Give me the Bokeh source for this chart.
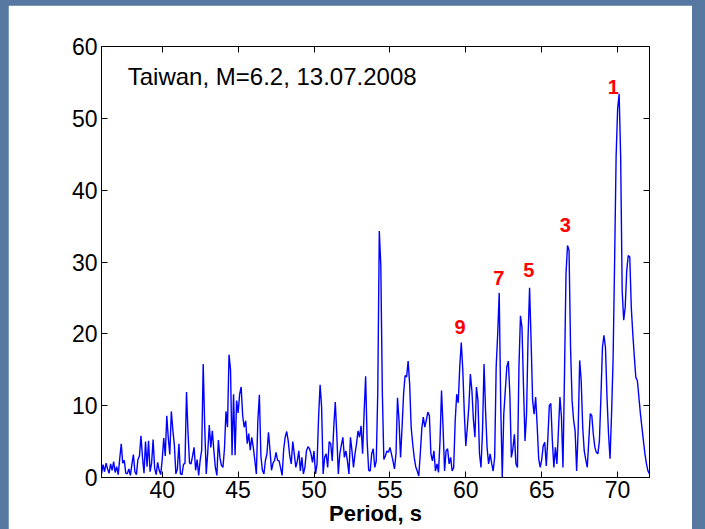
from bokeh.plotting import figure
from bokeh.models import Range1d, LinearAxis, FixedTicker, Label, CustomJSTickFormatter
from bokeh.layouts import column
from bokeh.embed import file_html
from bokeh.resources import INLINE

# Spectrum sampled every 0.1 s of period, starting at 36.0 s
period_start = 36.0
period_step = 0.1
amplitude = (
    [0.5, 1.8, 0.8, 2.0, 1.2, 0.6, 1.9, 1.0, 2.2, 0.7]        # 36 s
    + [1.5, 0.4, 2.6, 4.7, 2.0, 2.4, 0.6, 0.5, 1.2, 0.3]      # 37 s
    + [1.8, 3.2, 0.8, 0.4, 2.5, 3.0, 5.8, 2.8, 0.6, 5.0]      # 38 s
    + [1.5, 5.1, 0.8, 2.0, 5.3, 1.3, 0.4, 2.1, 1.0, 0.4]      # 39 s
    + [2.5, 5.5, 3.0, 8.6, 5.5, 3.2, 9.2, 6.6, 4.5, 0.5]      # 40 s
    + [1.2, 4.7, 0.5, 0.4, 1.8, 2.0, 11.9, 6.2, 2.0, 1.9]     # 41 s
    + [3.0, 4.2, 1.0, 2.5, 0.3, 2.4, 3.8, 15.8, 7.0, 0.5]     # 42 s
    + [3.5, 7.3, 4.2, 6.5, 3.8, 1.4, 0.3, 5.2, 2.8, 1.7]      # 43 s
    + [1.4, 4.0, 9.2, 7.0, 17.1, 15.0, 3.1, 11.6, 3.1, 10.7]  # 44 s
    + [9.0, 11.6, 12.6, 8.6, 7.0, 7.9, 4.7, 6.1, 3.8, 5.6]    # 45 s
    + [4.2, 2.4, 0.5, 7.9, 11.5, 3.0, 1.0, 0.5, 2.4, 3.3]     # 46 s
    + [6.3, 3.8, 1.0, 2.0, 2.4, 3.5, 2.4, 2.3, 1.3, 0.3]      # 47 s
    + [3.9, 5.6, 6.4, 5.1, 3.0, 1.9, 5.0, 3.3, 1.4, 2.3]      # 48 s
    + [3.7, 0.9, 2.8, 0.5, 1.4, 3.7, 4.3, 4.0, 3.3, 2.1]      # 49 s
    + [3.7, 0.5, 1.9, 8.4, 12.9, 9.8, 0.5, 2.8, 3.3, 1.4]     # 50 s
    + [5.0, 4.7, 2.3, 7.0, 10.5, 6.0, 0.5, 3.3, 4.5, 5.6]     # 51 s
    + [2.8, 3.7, 2.3, 0.5, 5.6, 3.7, 1.4, 3.3, 4.7, 6.5]      # 52 s
    + [5.6, 7.2, 3.3, 9.0, 14.1, 5.0, 1.0, 0.9, 3.3, 4.0]     # 53 s
    + [1.4, 2.3, 11.9, 34.3, 29.5, 11.9, 2.5, 3.0, 3.7, 3.5]  # 54 s
    + [4.2, 3.3, 2.3, 1.2, 3.3, 11.1, 7.9, 2.8, 7.0, 11.6]    # 55 s
    + [14.2, 14.0, 16.2, 13.0, 7.0, 4.7, 2.8, 1.5, 0.9, 0.2]  # 56 s
    + [3.3, 6.8, 8.4, 7.0, 8.0, 9.1, 8.6, 3.3, 2.3, 3.7]      # 57 s
    + [0.9, 1.9, 0.7, 5.1, 12.1, 7.0, 0.9, 3.7, 4.0, 1.9]     # 58 s
    + [2.8, 0.9, 1.4, 7.9, 11.6, 10.4, 15.4, 18.8, 15.0, 9.0] # 59 s
    + [4.4, 7.0, 9.9, 14.4, 12.1, 8.0, 5.6, 12.6, 10.7, 3.3]  # 60 s
    + [1.4, 6.5, 15.8, 9.3, 4.2, 1.9, 3.3, 2.0, 0.9, 2.8]     # 61 s
    + [15.4, 20.0, 25.7, 10.0, 0.0, 8.8, 12.1, 15.4, 16.2, 11.6]  # 62 s
    + [2.8, 4.0, 6.0, 1.9, 1.4, 15.4, 22.5, 20.9, 12.6, 5.1]  # 63 s
    + [8.8, 19.5, 26.4, 19.0, 10.7, 8.8, 11.2, 7.2, 2.6, 1.4] # 64 s
    + [2.5, 4.4, 4.9, 1.6, 5.3, 10.0, 10.3, 5.1, 1.4, 4.2]    # 65 s
    + [1.9, 6.5, 11.2, 8.4, 1.4, 14.4, 28.4, 32.3, 31.6, 18.0]  # 66 s
    + [10.7, 8.0, 6.5, 0.9, 6.5, 16.3, 13.5, 7.0, 3.7, 2.5]   # 67 s
    + [1.4, 5.1, 8.9, 8.6, 6.0, 4.2, 3.5, 3.3, 5.1, 11.2]     # 68 s
    + [18.1, 19.8, 18.1, 11.2, 6.1, 2.6, 8.8, 16.3, 29.8, 44.6]  # 69 s
    + [51.3, 53.4, 44.6, 26.0, 21.9, 23.7, 28.8, 30.9, 30.7, 23.7]  # 70 s
    + [20.0, 16.8, 13.9, 13.5, 11.2, 8.9, 7.0, 5.1, 3.3, 1.9] # 71 s
    + [0.9, 0.5]                                              # 72 s
)
period = [round(period_start + period_step * i, 1) for i in range(len(amplitude))]

# Axis ticks
x_ticks = [40, 45, 50, 55, 60, 65, 70]
y_ticks = [0, 10, 20, 30, 40, 50, 60]

# Numbered peaks (label text and position)
peak_names = ["1", "3", "5", "7", "9"]
peak_label_x = [69.72, 66.55, 64.15, 62.17, 59.62]
peak_label_y = [54.4, 35.2, 28.9, 27.8, 20.9]

title_text = "Taiwan, M=6.2, 13.07.2008"
x_label = "Period, s"

FONT = "Liberation Sans"

p = figure(
    width=684, height=524,
    output_backend="svg", toolbar_location=None,
    x_range=Range1d(36.0, 72.1), y_range=Range1d(0, 60),
    min_border_left=93, min_border_right=43,
    min_border_top=41, min_border_bottom=52,
    border_fill_color="white", background_fill_color="white",
    outline_line_color="black", outline_line_width=1,
    margin=(5, 13, 0, 8),
)
p.grid.visible = False

def style_axis(ax, ticks, show_labels):
    ax.ticker = FixedTicker(ticks=ticks)
    ax.major_tick_in = 6
    ax.major_tick_out = 0
    ax.minor_tick_line_color = None
    ax.axis_line_color = "black"
    ax.major_tick_line_color = "black"
    ax.major_label_text_font = FONT
    ax.major_label_text_color = "black"
    if show_labels:
        ax.major_label_text_font_size = "23px"
    else:
        ax.major_label_text_font_size = "0px"
        ax.major_label_standoff = 0
        ax.formatter = CustomJSTickFormatter(code="return ''")

style_axis(p.xaxis[0], x_ticks, True)
style_axis(p.yaxis[0], y_ticks, True)
p.xaxis[0].major_label_standoff = 3
p.yaxis[0].major_label_standoff = 4
p.xaxis[0].axis_label = x_label
p.xaxis[0].axis_label_text_font = FONT
p.xaxis[0].axis_label_text_font_style = "bold"
p.xaxis[0].axis_label_text_font_size = "22px"
p.xaxis[0].axis_label_text_color = "black"
p.xaxis[0].axis_label_standoff = 0

top_axis = LinearAxis()
right_axis = LinearAxis()
style_axis(top_axis, x_ticks, False)
style_axis(right_axis, y_ticks, False)
p.add_layout(top_axis, "above")
p.add_layout(right_axis, "right")

p.line(period, amplitude, line_color="#0000ff", line_width=1.4)

p.add_layout(Label(x=37.73, y=55.85, text=title_text, text_font=FONT,
                   text_font_size="24px", text_color="black",
                   text_baseline="middle", text_align="left"))

for name, lx, ly in zip(peak_names, peak_label_x, peak_label_y):
    p.add_layout(Label(x=lx, y=ly, text=name, text_font=FONT,
                       text_font_size="20px", text_font_style="bold",
                       text_color="#ff0000", text_baseline="middle",
                       text_align="center"))

page = column(p, styles={"background-color": "#56779f"})

with open("out.html", "w") as f:
    f.write(file_html(page, INLINE))
